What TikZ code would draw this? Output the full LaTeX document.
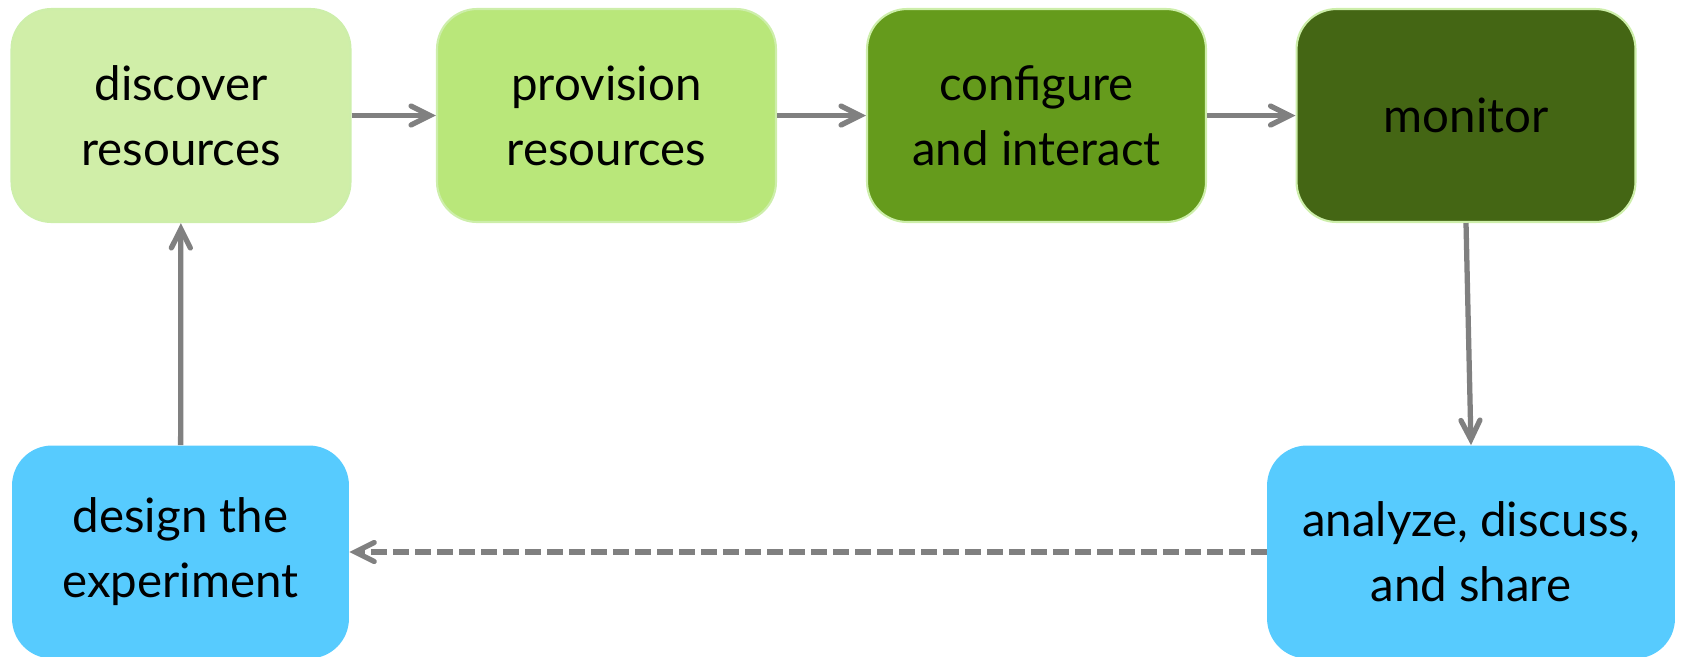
\documentclass[tikz,border=0pt]{standalone}
\usepackage{fontspec}
\setmainfont{Lato}
\usetikzlibrary{arrows.meta}
\definecolor{verdeA}{HTML}{D0EEA8}
\definecolor{verdeB}{HTML}{B9E77A}
\definecolor{verdeC}{HTML}{659B1C}
\definecolor{verdeD}{HTML}{446614}
\definecolor{borde}{HTML}{CDEEAA}
\definecolor{azul}{HTML}{57CBFE}
\definecolor{flecha}{HTML}{808080}
\tikzset{
  caja/.style={rounded corners=0.8cm, align=center, text=black, inner sep=0pt,
    minimum height=4.26cm, font=\fontsize{27}{37}\selectfont},
  verde/.style={caja, draw=borde, line width=1.2pt, minimum width=6.78cm},
  celeste/.style={caja, fill=azul, minimum width=6.74cm},
  flechita/.style={draw=flecha, line width=3pt,
    -{Straight Barb[length=3.8mm, width=3.8mm, line cap=round]}}
}
\begin{document}
\begin{tikzpicture}[x=0.02cm,y=-0.02cm]
	\useasboundingbox (0,0) rectangle (1682,656); %marco
	\node[verde, fill=verdeA] (discover) at (181,115.5) {discover\\resources}; %fila de arriba
	\node[verde, fill=verdeB] (provision) at (606.5,115.5) {provision\\resources};
	\node[verde, fill=verdeC] (configure) at (1036.5,115.5) {configure\\and interact};
	\node[verde, fill=verdeD] (monitor) at (1466,115.5) {monitor};
	\node[celeste] (design) at (180.5,552) {design the\\experiment}; %fila de abajo
	\node[celeste, minimum width=8.16cm] (analyze) at (1471,552) {analyze, discuss,\\and share};
	\draw[flechita] (discover) -- (provision); %flechas
	\draw[flechita] (provision) -- (configure);
	\draw[flechita] (configure) -- (monitor);
	\draw[flechita] (monitor.south) -- (analyze.north);
	\draw[flechita, dash pattern=on 0.32cm off 0.12cm] (analyze) -- (design); %linea punteada
	\draw[flechita] (design) -- (discover);
\end{tikzpicture}
\end{document}
